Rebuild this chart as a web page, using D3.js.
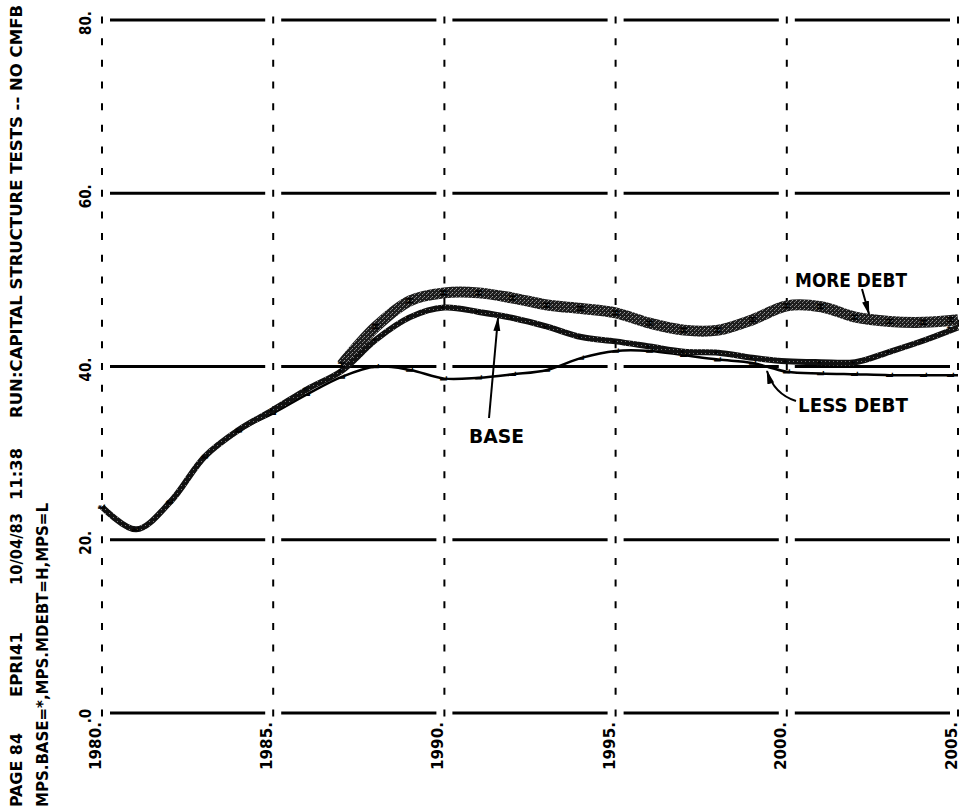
<!DOCTYPE html>
<html>
<head>
<meta charset="utf-8">
<script src="https://cdn.jsdelivr.net/npm/d3@7/dist/d3.min.js"></script>
<style>
  body { margin: 0; background: #fff; }
  svg { display: block; }
  text { font-family: "Liberation Sans Narrow", "DejaVu Sans Condensed", "Arial Narrow", sans-serif; font-weight: bold; fill: #000; }
</style>
</head>
<body>
<div id="chart"></div>
<script>
// years on the x axis and the three runs
var years = [1980, 1981, 1982, 1983, 1984, 1985, 1986, 1987, 1988, 1989, 1990, 1991, 1992,
             1993, 1994, 1995, 1996, 1997, 1998, 1999, 2000, 2001, 2002, 2003, 2004, 2005];
var base = [23.8, 21.2, 24.4, 29.6, 32.7, 35.0, 37.4, 39.5, 43.1, 45.7, 46.8, 46.3, 45.6,
             44.6, 43.4, 42.9, 42.3, 41.7, 41.6, 41.0, 40.6, 40.5, 40.5, 41.7, 43.0, 44.5];
var moreYears = [1987, 1988, 1989, 1990, 1991, 1992, 1993, 1994, 1995, 1996, 1997, 1998, 1999,
                 2000, 2001, 2002, 2003, 2004, 2005];
var moreDebt = [40.2, 44.6, 47.6, 48.5, 48.5, 47.9, 47.1, 46.7, 46.2, 45.0, 44.2, 44.2, 45.4,
                47.0, 46.9, 45.7, 45.2, 45.1, 45.4];
var lessDebt = [23.8, 21.2, 24.4, 29.6, 32.6, 34.6, 36.8, 38.8, 40.0, 39.6, 38.6, 38.7, 39.1,
                39.6, 41.0, 41.8, 41.8, 41.3, 40.8, 40.4, 39.4, 39.2, 39.1, 39.0, 39.0, 39.0];

var xTicks = [1980, 1985, 1990, 1995, 2000, 2005];
var xTickLabels = ["1980.", "1985.", "1990.", "1995.", "2000.", "2005."];
var yTicks = [0, 20, 40, 60, 80];
var yTickLabels = [".0", "20.", "40.", "60.", "80."];

var W = 961, H = 812;

var svg = d3.select("#chart").append("svg")
    .attr("width", W)
    .attr("height", H);

var defs = svg.append("defs");
// speckled fill used for the heavy lines
var p1 = defs.append("pattern").attr("id", "stip").attr("width", 4).attr("height", 4)
    .attr("patternUnits", "userSpaceOnUse");
p1.append("rect").attr("width", 4).attr("height", 4).attr("fill", "#1e1e1e");
p1.append("rect").attr("x", 0).attr("y", 0).attr("width", 1).attr("height", 1).attr("fill", "#a0a0a0");
p1.append("rect").attr("x", 2).attr("y", 2).attr("width", 1).attr("height", 1).attr("fill", "#8a8a8a");
p1.append("rect").attr("x", 3).attr("y", 1).attr("width", 1).attr("height", 1).attr("fill", "#666");

var p2 = defs.append("pattern").attr("id", "stip2").attr("width", 4).attr("height", 4)
    .attr("patternUnits", "userSpaceOnUse");
p2.append("rect").attr("width", 4).attr("height", 4).attr("fill", "#111");
p2.append("rect").attr("x", 1).attr("y", 1).attr("width", 1).attr("height", 1).attr("fill", "#777");

defs.append("marker").attr("id", "arrow")
    .attr("viewBox", "0 0 14 8").attr("refX", 13).attr("refY", 4)
    .attr("markerWidth", 14).attr("markerHeight", 8)
    .attr("markerUnits", "userSpaceOnUse")
    .attr("orient", "auto")
    .append("path").attr("d", "M0,0.5 L14,4 L0,7.5 Z").attr("fill", "#000");

var x = d3.scaleLinear().domain([1980, 2005]).range([102, 958]);
var y = d3.scaleLinear().domain([0, 80]).range([713, 20]);

// vertical dashed grid, a dash sits on every horizontal rule
var period = (y(0) - y(20)) / 8;
var dash = 7;
svg.selectAll(".vgrid")
    .data(xTicks)
    .join("line")
    .attr("class", "vgrid")
    .attr("x1", d => x(d)).attr("x2", d => x(d))
    .attr("y1", y(80) - dash / 2).attr("y2", y(0) + dash / 2)
    .attr("stroke", "#000")
    .attr("stroke-width", 2)
    .attr("stroke-dasharray", dash + "," + (period - dash));

// horizontal rules, broken where they meet the dashed verticals
var segs = [];
yTicks.forEach(function (v) {
    for (let i = 0; i < xTicks.length - 1; i++) {
        segs.push({ v: v, a: xTicks[i], b: xTicks[i + 1] });
    }
});
svg.selectAll(".hgrid")
    .data(segs)
    .join("line")
    .attr("class", "hgrid")
    .attr("x1", d => x(d.a) + 8).attr("x2", d => x(d.b) - 8)
    .attr("y1", d => y(d.v)).attr("y2", d => y(d.v))
    .attr("stroke", "#000")
    .attr("stroke-width", 3);

// tick labels
svg.selectAll(".ylab")
    .data(yTicks)
    .join("text")
    .attr("class", "ylab")
    .attr("transform", d => "translate(91," + (y(d) + 3) + ") rotate(-90)")
    .attr("text-anchor", "middle")
    .style("font-size", "15px")
    .text((d, i) => yTickLabels[i]);

svg.selectAll(".xlab")
    .data(xTicks)
    .join("text")
    .attr("class", "xlab")
    .attr("transform", d => "translate(" + (x(d) - 1) + ",722) rotate(-90)")
    .attr("text-anchor", "end")
    .attr("textLength", 48)
    .attr("lengthAdjust", "spacingAndGlyphs")
    .style("font-size", "15px")
    .text((d, i) => xTickLabels[i]);

// header lines printed up the left edge
var header = [
    { t: "PAGE 84", bx: 22, y0: 807, len: 74 },
    { t: "EPRI41", bx: 22, y0: 697, len: 65 },
    { t: "10/04/83", bx: 22, y0: 585, len: 72 },
    { t: "11:38", bx: 22, y0: 500, len: 52 },
    { t: "RUN:CAPITAL STRUCTURE TESTS -- NO CMFB", bx: 22, y0: 418, len: 413 },
    { t: "MPS.BASE=*,MPS.MDEBT=H,MPS=L", bx: 48, y0: 807, len: 304 }
];
svg.selectAll(".hdr")
    .data(header)
    .join("text")
    .attr("class", "hdr")
    .attr("transform", d => "translate(" + d.bx + "," + d.y0 + ") rotate(-90)")
    .attr("textLength", d => d.len)
    .attr("lengthAdjust", "spacingAndGlyphs")
    .style("font-size", "16px")
    .text(d => d.t);

// series
var line = d3.line()
    .x(d => x(d[0]))
    .y(d => y(d[1]))
    .curve(d3.curveCatmullRom.alpha(0.5));

var moreData = moreYears.map((yr, i) => [yr, moreDebt[i]]);
var baseData = years.map((yr, i) => [yr, base[i]]);
var lessData = years.map((yr, i) => [yr, lessDebt[i]]);

svg.append("path")
    .datum(moreData)
    .attr("d", line)
    .attr("fill", "none")
    .attr("stroke", "url(#stip)")
    .attr("stroke-width", 11);

svg.append("path")
    .datum(lessData)
    .attr("d", line)
    .attr("fill", "none")
    .attr("stroke", "#000")
    .attr("stroke-width", 2.5);

svg.append("path")
    .datum(baseData)
    .attr("d", line)
    .attr("fill", "none")
    .attr("stroke", "url(#stip2)")
    .attr("stroke-width", 6);

// plotting symbols at the data points
function symbols(data, ch, cls) {
    svg.selectAll("." + cls)
        .data(data)
        .join("text")
        .attr("class", cls)
        .attr("transform", d => "translate(" + Math.min(x(d[0]) + 3, 954) + "," + y(d[1]) + ") rotate(-90)")
        .attr("text-anchor", "middle")
        .style("font-size", "9px")
        .text(ch);
}
symbols(moreData, "H", "symH");
symbols(baseData, "*", "symB");
symbols(lessData, "L", "symL");

// annotations
svg.append("text").attr("x", 795).attr("y", 287).style("font-size", "19px")
    .attr("textLength", 112).attr("lengthAdjust", "spacingAndGlyphs")
    .text("MORE DEBT");
svg.append("text").attr("x", 469).attr("y", 443).style("font-size", "19px")
    .attr("textLength", 55).attr("lengthAdjust", "spacingAndGlyphs")
    .text("BASE");
svg.append("text").attr("x", 798).attr("y", 412).style("font-size", "19px")
    .attr("textLength", 110).attr("lengthAdjust", "spacingAndGlyphs")
    .text("LESS DEBT");

svg.append("path").attr("d", "M862,289 L869,314")
    .attr("stroke", "#000").attr("stroke-width", 2).attr("fill", "none")
    .attr("marker-end", "url(#arrow)");
svg.append("path").attr("d", "M489,418 L498,318")
    .attr("stroke", "#000").attr("stroke-width", 2).attr("fill", "none")
    .attr("marker-end", "url(#arrow)");
svg.append("path").attr("d", "M796,401 Q774,394 767,371")
    .attr("stroke", "#000").attr("stroke-width", 2).attr("fill", "none")
    .attr("marker-end", "url(#arrow)");
</script>
</body>
</html>
